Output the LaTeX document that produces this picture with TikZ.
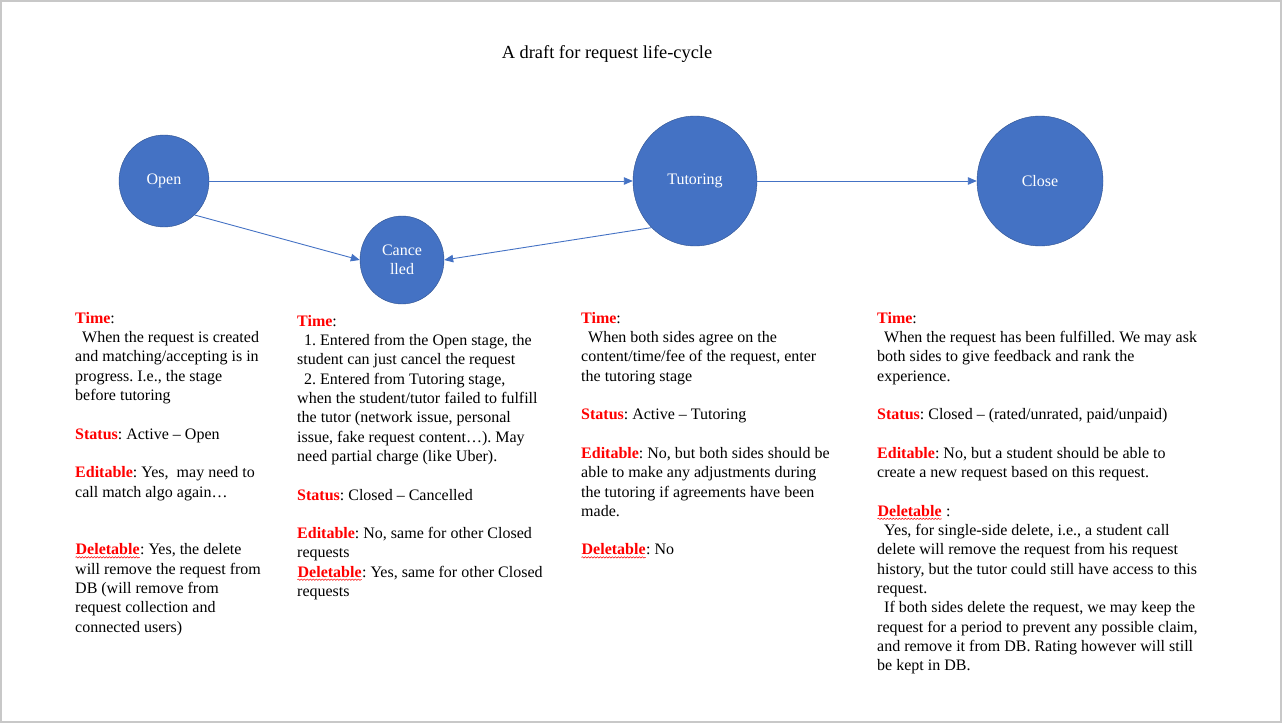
\documentclass[tikz,border=0pt]{standalone}
\usepackage{fontspec}
\setmainfont{Liberation Serif}
\usetikzlibrary{shapes.geometric,arrows.meta,decorations.pathmorphing}
\definecolor{stageblue}{HTML}{4472C4}
\definecolor{stageedge}{HTML}{2F528F}
\definecolor{pageedge}{HTML}{C8C8C8}
\newcommand{\fld}[1]{\textcolor{red}{\textbf{#1}}}
\newcommand{\fldw}[1]{\tikz[baseline=(w.base)]{\node[inner sep=0pt,anchor=base west,draw=none,fill=none] (w) at (0,0) {\textcolor{red}{\textbf{#1}}};
	\draw[red,line width=.5pt,decorate,decoration={snake,amplitude=.7pt,segment length=3pt}] ([yshift=-2.5pt]w.base west) -- ([yshift=-2.5pt]w.base east);}}
\newcommand{\ind}{\hspace*{7pt}}
\frenchspacing
\begin{document}
\begin{tikzpicture}[x=1pt,y=-1pt,
		stage/.style={ellipse,draw=stageedge,fill=stageblue,text=white,inner sep=0pt,
			align=center,font=\fontsize{16}{19.3}\selectfont},
		flow/.style={draw=stageblue,line width=.9pt,-{Triangle[length=9pt,width=7.5pt]}},
		note/.style={anchor=north west,align=left,inner sep=0pt,
			font=\fontsize{16}{19.3}\selectfont}]
			\useasboundingbox (0,0) rectangle (1282,725);
			\draw[pageedge,line width=1.5pt] (1,1) rectangle (1281,722);
			\node (title) at (607,54) {\fontsize{18.4}{21}\selectfont A draft for request life-cycle};
			%
			\node[stage,minimum width=90pt,minimum height=92pt] (open) at (164,181) {Open};
			\node[stage,minimum width=84pt,minimum height=88pt] (canc) at (402,260) {Cance\\lled};
			\node[stage,minimum width=124pt,minimum height=130pt] (tut) at (695,181) {Tutoring};
			\node[stage,minimum width=126pt,minimum height=130pt] (close) at (1040,181) {Close};
			\draw[flow] (open) -- (tut);
			\draw[flow] (open.-48) -- (canc.west);
			\draw[flow] (tut.-133) -- (canc.east);
			\draw[flow] (tut) -- (close);
			%
			\node[note] (openTxt) at (75,312) {\fld{Time}:\\
				\ind When the request is created\\
				and matching/accepting is in\\
				progress. I.e., the stage\\
				before tutoring\\ \mbox{}\\
				\fld{Status}: Active -- Open\\ \mbox{}\\
				\fld{Editable}: Yes,\ \ may need to\\
				call match algo again\ldots\\ \mbox{}\\ \mbox{}\\
				\fldw{Deletable}: Yes, the delete\\
				will remove the request from\\
				DB (will remove from\\
				request collection and\\
				connected users)};
			\node[note] (cancTxt) at (297,315) {\fld{Time}:\\
				\ind 1. Entered from the Open stage, the\\
				student can just cancel the request\\
				\ind 2. Entered from Tutoring stage,\\
				when the student/tutor failed to fulfill\\
				the tutor (network issue, personal\\
				issue, fake request content\ldots). May\\
				need partial charge (like Uber).\\ \mbox{}\\
				\fld{Status}: Closed -- Cancelled\\ \mbox{}\\
				\fld{Editable}: No, same for other Closed\\
				requests\\
				\fldw{Deletable}: Yes, same for other Closed\\
				requests};
			\node[note] (tutTxt) at (581,312) {\fld{Time}:\\
				\ind When both sides agree on the\\
				content/time/fee of the request, enter\\
				the tutoring stage\\ \mbox{}\\
				\fld{Status}: Active -- Tutoring\\ \mbox{}\\
				\fld{Editable}: No, but both sides should be\\
				able to make any adjustments during\\
				the tutoring if agreements have been\\
				made.\\ \mbox{}\\
				\fldw{Deletable}: No};
			\node[note] (closeTxt) at (877,312) {\fld{Time}:\\
				\ind When the request has been fulfilled. We may ask\\
				both sides to give feedback and rank the\\
				experience.\\ \mbox{}\\
				\fld{Status}: Closed -- (rated/unrated, paid/unpaid)\\ \mbox{}\\
				\fld{Editable}: No, but a student should be able to\\
				create a new request based on this request.\\ \mbox{}\\
				\fldw{Deletable} :\\
				\ind Yes, for single-side delete, i.e., a student call\\
				delete will remove the request from his request\\
				history, but the tutor could still have access to this\\
				request.\\
				\ind If both sides delete the request, we may keep the\\
				request for a period to prevent any possible claim,\\
				and remove it from DB. Rating however will still\\
				be kept in DB.};
		\end{tikzpicture}
\end{document}
